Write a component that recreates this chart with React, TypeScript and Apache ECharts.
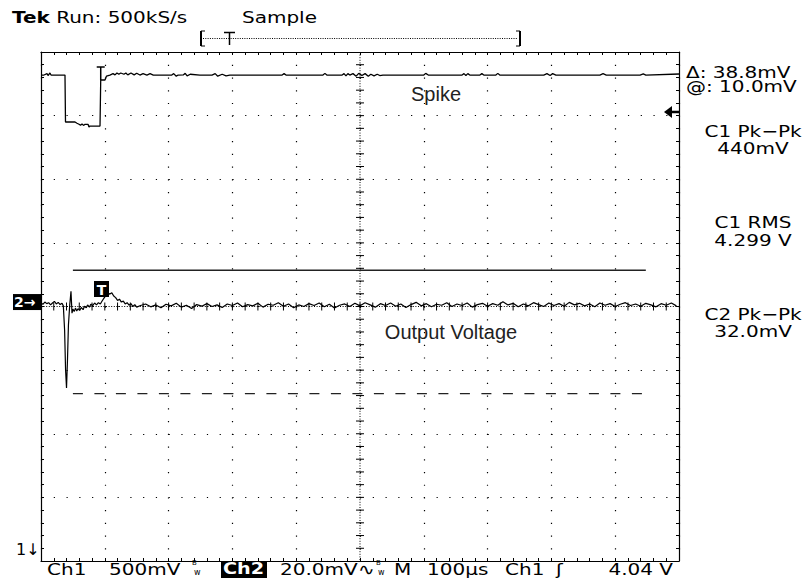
import React, { useEffect, useRef } from "react";
import * as echarts from "echarts";

// ---- scope settings ----
const timePerDivUs = 100; // M 100µs
const timeDivs = 10;
const vertDivs = 8;
const ch1VoltsPerDiv = 0.5; // Ch1 500mV
const ch1GroundDiv = -4.96; // ground below screen (1↓)
const ch2MilliVoltsPerDiv = 20; // Ch2 20.0mV
const ch2GroundDiv = 0.07;
const triggerLevelV = 4.04;
const triggerTimeUs = 93.6;

// ---- Ch1 "Spike" trace: [time µs, volts] ----
const ch1Trace: [number, number][] = [
  [0, 4.299], [4.7, 4.299], [9.4, 4.31], [11, 4.295], [14, 4.315], [15.7, 4.299], [37.6, 4.299],
  [38.4, 3.93], [53.3, 3.93], [56.4, 3.92], [59.6, 3.912], [61.9, 3.905], [64.3, 3.915], [66.6, 3.903],
  [69, 3.912], [73.7, 3.912], [75.2, 3.89], [76.8, 3.898], [92.5, 3.898], [93.6, 4.26], [100.3, 4.26],
  [102.7, 4.291], [108, 4.299], [112.9, 4.31], [116, 4.3], [119, 4.315], [122, 4.305], [125, 4.315],
  [130, 4.305], [133, 4.315], [136, 4.3], [141, 4.315], [146, 4.3], [150, 4.313], [155, 4.299],
  [160, 4.31], [166, 4.299], [171, 4.31], [176, 4.299], [205, 4.299], [208, 4.31], [212, 4.29],
  [215, 4.299], [223, 4.3], [226, 4.312], [229, 4.292], [234, 4.305], [249, 4.299], [268, 4.299],
  [273, 4.31], [277, 4.29], [284, 4.305], [290, 4.292], [296, 4.299], [378, 4.299], [381, 4.31],
  [384, 4.299], [442, 4.299], [445, 4.312], [448, 4.299], [472, 4.299], [475, 4.31], [478, 4.292],
  [481, 4.31], [484, 4.299], [489, 4.31], [494, 4.29], [498, 4.312], [503, 4.295], [508, 4.31],
  [513, 4.29], [517, 4.305], [522, 4.292], [527, 4.305], [531, 4.295], [536, 4.299], [600, 4.299],
  [603, 4.312], [607, 4.299], [660, 4.299], [663, 4.31], [666, 4.295], [669, 4.31], [672, 4.299],
  [688, 4.299], [691, 4.31], [694, 4.299], [713, 4.299], [716, 4.312], [719, 4.299], [788, 4.299],
  [793, 4.31], [798, 4.295], [802, 4.31], [807, 4.299], [876, 4.299], [881, 4.31], [886, 4.299],
  [939, 4.299], [944, 4.308], [948, 4.299], [1000, 4.307],
];

// ---- Ch2 "Output Voltage" trace near the edge: [time µs, mV] ----
const ch2Edge: [number, number][] = [
  [0, -0.3], [3, -0.7], [6, 0.0], [9, -0.5], [12, -0.2], [15, -0.9], [18, -0.3], [21, 0.2], [24, -0.6],
  [27, -0.1], [30, -0.8], [33, -0.4], [35, -1.2], [37, -8.8], [38.5, -21.3], [40, -27.0], [41.5, -18.3],
  [43, -7.2], [45, -1.0], [47, 3.4], [48.6, -3.5], [50, -2.2], [52, -3.0], [54, -1.9], [56, -2.8],
  [58, -2.1], [61, -2.6], [63, -1.7], [66, -2.4], [68, -1.3], [71, -1.8], [73, -0.9], [76, -1.6],
  [78, -0.7], [81, -1.1], [84, -0.3], [87, -0.9], [90, -0.2], [93, -0.6], [96, 0.4], [99, 1.3],
  [102, 2.2], [105, 2.8], [108, 2.5], [111, 2.9], [114, 1.9], [117, 1.4], [120, 0.5], [123, 0.9],
  [126, 0.0], [129, 0.3], [132, -0.6], [135, -0.2], [138, -1.0], [141, -0.5], [144, -1.4], [147, -0.8],
  [150, -1.6],
];
// ---- Ch2 settled part, one reading every 8 µs from 156 µs (mV) ----
const ch2TailStartUs = 156;
const ch2TailStepUs = 8;
const ch2Tail: number[] = [
  -1.1, -0.6, -1.5, -0.9, -1.8, -0.7, -1.2, -0.4, -1.6, -1.0, -2.0, -0.8, -1.3, -0.5, -1.4, -0.9,
  -1.7, -0.6, -1.1, -0.3, -1.5, -0.8, -1.2, -0.4, -1.6, -0.7, -1.0, -0.2, -1.3, -0.6, -1.8, -0.9,
  -1.4, -0.5, -1.1, -0.3, -1.5, -0.7, -1.9, -1.0, -0.6, -1.4, -0.4, -1.2, -0.2, -0.9, -1.6, -0.5,
  -1.1, -0.3, -1.3, -0.6, -1.7, -0.8, -0.1, -1.2, -0.5, -1.5, -0.7, -1.0, -0.2, -1.4, -0.6, -1.1,
  -0.3, -1.6, -0.8, -0.4, -1.3, -0.5, -1.0, 0.1, -0.9, -0.4, -1.5, -0.6, -1.2, -0.2, -0.8, -1.4,
  -0.3, -1.1, -0.5, -1.3, -0.1, -0.9, -0.4, -1.2, -0.6, -1.5, -0.3, -1.0, -0.5, -1.4, -0.7, -0.2,
  -1.1, -0.6, -1.3, -0.4, -0.9, -1.5, -0.5, -1.0, -0.3, -1.2,
];

// ---- horizontal bar cursors on Ch2 ----
const cursorSpanUs: [number, number] = [50, 948];
const cursorAtMv = 10.0;
const cursorDeltaMv = 38.8;

// ---- readouts ----
const headerLeft = "Run: 500kS/s";
const headerMode = "Sample";
const rightReadouts: { text: string; y: number; align: "left" | "center"; x: number }[] = [
  { text: "Δ: 38.8mV", x: 686, y: 72, align: "left" },
  { text: "@: 10.0mV", x: 686, y: 86, align: "left" },
  { text: "C1 Pk−Pk", x: 753, y: 131, align: "center" },
  { text: "440mV", x: 753, y: 148, align: "center" },
  { text: "C1 RMS", x: 753, y: 222, align: "center" },
  { text: "4.299 V", x: 753, y: 240, align: "center" },
  { text: "C2 Pk−Pk", x: 753, y: 314, align: "center" },
  { text: "32.0mV", x: 753, y: 331, align: "center" },
];
const bottomItems: { text: string; x: number }[] = [
  { text: "Ch1", x: 47 },
  { text: "500mV", x: 109 },
  { text: "20.0mV", x: 280 },
  { text: "∿", x: 358 },
  { text: "M", x: 394 },
  { text: "100µs", x: 427 },
  { text: "Ch1", x: 505 },
  { text: "ʃ", x: 556 },
];
const bottomRight = "4.04 V";
const bandwidthMarkX = [192, 376];

// ---- layout ----
const G = { left: 41, top: 52, width: 638, height: 509 };
const FONT = "'DejaVu Sans', 'Noto Sans', sans-serif";
const ARIAL = "'Liberation Sans', Arial, sans-serif";
const SCOPE_SIZE = 16;
const SCOPE_STRETCH = 1.25;

function buildGraphics() {
  const els: any[] = [];
  const dx = G.width / timeDivs;
  const dy = G.height / vertDivs;
  const cx = G.left + G.width / 2;
  const cy = G.top + G.height / 2;
  const line = (x1: number, y1: number, x2: number, y2: number, extra: any = {}) => ({
    type: "line",
    silent: true,
    shape: { x1, y1, x2, y2 },
    style: { stroke: "#000", lineWidth: 1, ...extra },
  });
  // centre graticule lines (dense dots) with minor ticks
  els.push(line(cx, G.top, cx, G.top + G.height, { lineDash: [1, 1.6] }));
  els.push(line(G.left, cy, G.left + G.width, cy, { lineDash: [1, 1.6] }));
  for (let i = 1; i < timeDivs * 5; i++) {
    const x = G.left + (i * dx) / 5;
    els.push(line(x, cy - 4, x, cy + 4));
  }
  for (let j = 1; j < vertDivs * 5; j++) {
    const y = G.top + (j * dy) / 5;
    els.push(line(cx - 4, y, cx + 4, y));
  }
  // scope-font text (stretched horizontally like the instrument's wide font)
  const txt = (text: string, x: number, y: number, o: any = {}, stretch = SCOPE_STRETCH) => ({
    type: "text",
    silent: true,
    x,
    y,
    scaleX: stretch,
    style: {
      text,
      fill: "#000",
      fontSize: SCOPE_SIZE,
      fontFamily: FONT,
      align: "left",
      verticalAlign: "middle",
      ...o,
    },
  });
  // header
  els.push({
    type: "text",
    silent: true,
    x: 12,
    y: 17,
    scaleX: SCOPE_STRETCH,
    style: {
      text: "{b|Tek} " + headerLeft,
      fill: "#000",
      fontSize: SCOPE_SIZE,
      fontFamily: FONT,
      verticalAlign: "middle",
      rich: { b: { fontWeight: "bold", fontSize: SCOPE_SIZE, fontFamily: FONT } },
    },
  });
  els.push(txt(headerMode, 242, 17));
  // record bracket
  els.push(line(201, 31, 201, 46, { lineWidth: 2 }));
  els.push(line(201, 31, 205, 31));
  els.push(line(201, 46, 205, 46));
  els.push(line(520, 31, 520, 46, { lineWidth: 2 }));
  els.push(line(516, 31, 520, 31));
  els.push(line(516, 46, 520, 46));
  els.push(line(203, 38.5, 518, 38.5, { lineDash: [1, 1.3] }));
  els.push(line(224, 32.5, 235, 32.5, { lineWidth: 1.5 }));
  els.push(line(229.5, 32.5, 229.5, 45, { lineWidth: 1.5 }));
  // right readouts
  for (const r of rightReadouts) {
    els.push(txt(r.text, r.x, r.y, { align: r.align }));
  }
  // trigger level arrow (Ch1 source)
  const trigDiv = triggerLevelV / ch1VoltsPerDiv + ch1GroundDiv;
  const trigY = G.top + (vertDivs / 2 - trigDiv) * dy + 4;
  els.push({
    type: "polygon",
    silent: true,
    shape: { points: [[664, trigY], [672, trigY - 6], [672, trigY + 6]] },
    style: { fill: "#000" },
  });
  els.push(line(670, trigY, 679, trigY, { lineWidth: 2.5 }));
  // ch1 trigger T on the trace
  const trigX = G.left + (triggerTimeUs / (timePerDivUs * timeDivs)) * G.width;
  els.push(line(trigX - 4, 67, trigX + 4, 67, { lineWidth: 1.5 }));
  els.push(line(trigX, 67, trigX, 80, { lineWidth: 1.5 }));
  // ch2 trigger-position box
  els.push({ type: "rect", silent: true, shape: { x: 94, y: 281, width: 15, height: 16 }, style: { fill: "#000" } });
  els.push(txt("T", 101.5, 289.5, { fill: "#fff", fontWeight: "bold", fontSize: 14, align: "center" }, 1));
  // ch2 ground marker
  const gndY = G.top + (vertDivs / 2 - ch2GroundDiv) * dy;
  els.push({ type: "rect", silent: true, shape: { x: 13, y: gndY - 8, width: 28, height: 16 }, style: { fill: "#000" } });
  els.push(txt("2→", 14, gndY, { fill: "#fff", fontWeight: "bold", fontSize: 14 }, 1));
  // ch1 ground marker (off screen below)
  els.push(txt("1↓", 16, 549, { fontSize: 16 }, 1));
  // labels
  els.push(txt("Spike", 436, 94, { fontFamily: ARIAL, fontSize: 20, fill: "#222", align: "center" }, 1));
  els.push(txt("Output Voltage", 451, 332, { fontFamily: ARIAL, fontSize: 20, fill: "#222", align: "center" }, 1));
  // bottom status line
  const by = 569;
  for (const b of bottomItems) els.push(txt(b.text, b.x, by));
  for (const bx of bandwidthMarkX) {
    els.push(txt("B", bx, 563, { fontSize: 7 }, 1));
    els.push(txt("w", bx + 2, 572, { fontSize: 8 }, 1));
  }
  els.push({ type: "rect", silent: true, shape: { x: 221, y: 561, width: 46, height: 17 }, style: { fill: "#000" } });
  els.push(txt("Ch2", 223, by, { fill: "#fff", fontWeight: "bold" }, 1.2));
  els.push(txt(bottomRight, 673, by, { align: "right" }));
  return els;
}

function buildOption() {
  const tMax = timePerDivUs * timeDivs;
  const ch1Min = (-vertDivs / 2 - ch1GroundDiv) * ch1VoltsPerDiv;
  const ch1Max = (vertDivs / 2 - ch1GroundDiv) * ch1VoltsPerDiv;
  const ch2Min = (-vertDivs / 2 - ch2GroundDiv) * ch2MilliVoltsPerDiv;
  const ch2Max = (vertDivs / 2 - ch2GroundDiv) * ch2MilliVoltsPerDiv;
  const ch2Data: [number, number][] = [
    ...ch2Edge,
    ...ch2Tail.map((v, i) => [Math.min(tMax, ch2TailStartUs + i * ch2TailStepUs), v] as [number, number]),
  ];
  const frameAxis = (position: string, withSplit: boolean, dash: number[]) => ({
    type: "value",
    position,
    axisLine: { show: true, onZero: false, lineStyle: { color: "#000", width: 1.2 } },
    axisTick: { show: true, inside: true, length: 3, lineStyle: { color: "#000" } },
    minorTick: { show: true, splitNumber: 5, length: 3, lineStyle: { color: "#000" } },
    axisLabel: { show: false },
    splitLine: { show: withSplit, lineStyle: { color: "#000", width: 1.2, type: dash } },
  });
  const dxMinor = G.width / timeDivs / 5;
  const dyMinor = G.height / vertDivs / 5;
  return {
    animation: false,
    backgroundColor: "#fff",
    grid: { left: G.left, top: G.top, width: G.width, height: G.height, show: false },
    xAxis: [
      { ...frameAxis("bottom", true, [1.2, dyMinor - 1.2]), min: 0, max: tMax, interval: timePerDivUs },
      { ...frameAxis("top", false, [1]), min: 0, max: tMax, interval: timePerDivUs },
    ],
    yAxis: [
      { ...frameAxis("left", true, [1.2, dxMinor - 1.2]), min: -vertDivs / 2, max: vertDivs / 2, interval: 1 },
      { ...frameAxis("right", false, [1]), min: -vertDivs / 2, max: vertDivs / 2, interval: 1 },
      { type: "value", show: false, min: ch1Min, max: ch1Max },
      { type: "value", show: false, min: ch2Min, max: ch2Max },
    ],
    series: [
      {
        name: "Spike",
        type: "line",
        xAxisIndex: 0,
        yAxisIndex: 2,
        data: ch1Trace,
        showSymbol: false,
        symbol: "none",
        silent: true,
        lineStyle: { color: "#000", width: 1.3 },
      },
      {
        name: "Output Voltage",
        type: "line",
        xAxisIndex: 0,
        yAxisIndex: 3,
        data: ch2Data,
        showSymbol: false,
        symbol: "none",
        silent: true,
        lineStyle: { color: "#000", width: 1.2 },
      },
      {
        name: "Cursor @",
        type: "line",
        xAxisIndex: 0,
        yAxisIndex: 3,
        data: [[cursorSpanUs[0], cursorAtMv], [cursorSpanUs[1], cursorAtMv]],
        showSymbol: false,
        symbol: "none",
        silent: true,
        lineStyle: { color: "#222", width: 1.3 },
      },
      {
        name: "Cursor Δ",
        type: "line",
        xAxisIndex: 0,
        yAxisIndex: 3,
        data: [
          [cursorSpanUs[0], cursorAtMv - cursorDeltaMv],
          [cursorSpanUs[1], cursorAtMv - cursorDeltaMv],
        ],
        showSymbol: false,
        symbol: "none",
        silent: true,
        lineStyle: { color: "#222", width: 1.3, type: [10, 11.5] },
      },
    ],
    graphic: buildGraphics(),
  };
}

export default function App() {
  const ref = useRef<HTMLDivElement>(null);
  useEffect(() => {
    if (!ref.current) return;
    const chart = echarts.init(ref.current, undefined, { renderer: "svg" });
    chart.setOption(buildOption() as any);
    return () => chart.dispose();
  }, []);
  return (
    <div
      ref={ref}
      style={{ position: "absolute", left: 0, top: 0, width: 807, height: 586, background: "#fff" }}
    />
  );
}
